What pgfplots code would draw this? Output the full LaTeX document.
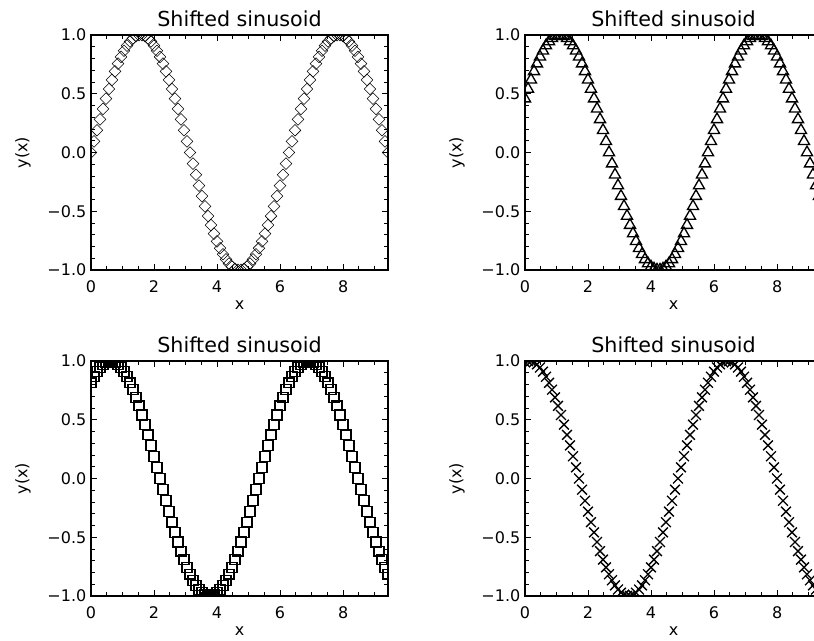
\documentclass[border=0pt]{standalone}
\usepackage{fontspec}
\setmainfont{DejaVu Sans}
\usepackage{pgfplots}
\usepackage{pgfplotstable}
\pgfplotsset{compat=1.18}

% y0..y3: the sinusoid with four phase shifts, sampled at 100 points on [0, 3pi]
\pgfplotstableread{
x      y0      y1      y2      y3
0.000  0.0000  0.4582  0.8146  0.9898
0.095  0.0951  0.5406  0.8660  0.9989
0.190  0.1893  0.6182  0.9096  0.9989
0.286  0.2817  0.6901  0.9450  0.9898
0.381  0.3717  0.7558  0.9718  0.9718
0.476  0.4582  0.8146  0.9898  0.9450
0.571  0.5406  0.8660  0.9989  0.9096
0.666  0.6182  0.9096  0.9989  0.8660
0.762  0.6901  0.9450  0.9898  0.8146
0.857  0.7558  0.9718  0.9718  0.7558
0.952  0.8146  0.9898  0.9450  0.6901
1.047  0.8660  0.9989  0.9096  0.6182
1.142  0.9096  0.9989  0.8660  0.5406
1.238  0.9450  0.9898  0.8146  0.4582
1.333  0.9718  0.9718  0.7558  0.3717
1.428  0.9898  0.9450  0.6901  0.2817
1.523  0.9989  0.9096  0.6182  0.1893
1.618  0.9989  0.8660  0.5406  0.0951
1.714  0.9898  0.8146  0.4582  0.0000
1.809  0.9718  0.7558  0.3717 -0.0951
1.904  0.9450  0.6901  0.2817 -0.1893
1.999  0.9096  0.6182  0.1893 -0.2817
2.094  0.8660  0.5406  0.0951 -0.3717
2.190  0.8146  0.4582  0.0000 -0.4582
2.285  0.7558  0.3717 -0.0951 -0.5406
2.380  0.6901  0.2817 -0.1893 -0.6182
2.475  0.6182  0.1893 -0.2817 -0.6901
2.570  0.5406  0.0951 -0.3717 -0.7558
2.666  0.4582  0.0000 -0.4582 -0.8146
2.761  0.3717 -0.0951 -0.5406 -0.8660
2.856  0.2817 -0.1893 -0.6182 -0.9096
2.951  0.1893 -0.2817 -0.6901 -0.9450
3.046  0.0951 -0.3717 -0.7558 -0.9718
3.142  0.0000 -0.4582 -0.8146 -0.9898
3.237 -0.0951 -0.5406 -0.8660 -0.9989
3.332 -0.1893 -0.6182 -0.9096 -0.9989
3.427 -0.2817 -0.6901 -0.9450 -0.9898
3.522 -0.3717 -0.7558 -0.9718 -0.9718
3.618 -0.4582 -0.8146 -0.9898 -0.9450
3.713 -0.5406 -0.8660 -0.9989 -0.9096
3.808 -0.6182 -0.9096 -0.9989 -0.8660
3.903 -0.6901 -0.9450 -0.9898 -0.8146
3.998 -0.7558 -0.9718 -0.9718 -0.7558
4.094 -0.8146 -0.9898 -0.9450 -0.6901
4.189 -0.8660 -0.9989 -0.9096 -0.6182
4.284 -0.9096 -0.9989 -0.8660 -0.5406
4.379 -0.9450 -0.9898 -0.8146 -0.4582
4.474 -0.9718 -0.9718 -0.7558 -0.3717
4.570 -0.9898 -0.9450 -0.6901 -0.2817
4.665 -0.9989 -0.9096 -0.6182 -0.1893
4.760 -0.9989 -0.8660 -0.5406 -0.0951
4.855 -0.9898 -0.8146 -0.4582  0.0000
4.950 -0.9718 -0.7558 -0.3717  0.0951
5.046 -0.9450 -0.6901 -0.2817  0.1893
5.141 -0.9096 -0.6182 -0.1893  0.2817
5.236 -0.8660 -0.5406 -0.0951  0.3717
5.331 -0.8146 -0.4582  0.0000  0.4582
5.426 -0.7558 -0.3717  0.0951  0.5406
5.522 -0.6901 -0.2817  0.1893  0.6182
5.617 -0.6182 -0.1893  0.2817  0.6901
5.712 -0.5406 -0.0951  0.3717  0.7558
5.807 -0.4582  0.0000  0.4582  0.8146
5.902 -0.3717  0.0951  0.5406  0.8660
5.998 -0.2817  0.1893  0.6182  0.9096
6.093 -0.1893  0.2817  0.6901  0.9450
6.188 -0.0951  0.3717  0.7558  0.9718
6.283  0.0000  0.4582  0.8146  0.9898
6.378  0.0951  0.5406  0.8660  0.9989
6.474  0.1893  0.6182  0.9096  0.9989
6.569  0.2817  0.6901  0.9450  0.9898
6.664  0.3717  0.7558  0.9718  0.9718
6.759  0.4582  0.8146  0.9898  0.9450
6.854  0.5406  0.8660  0.9989  0.9096
6.950  0.6182  0.9096  0.9989  0.8660
7.045  0.6901  0.9450  0.9898  0.8146
7.140  0.7558  0.9718  0.9718  0.7558
7.235  0.8146  0.9898  0.9450  0.6901
7.330  0.8660  0.9989  0.9096  0.6182
7.426  0.9096  0.9989  0.8660  0.5406
7.521  0.9450  0.9898  0.8146  0.4582
7.616  0.9718  0.9718  0.7558  0.3717
7.711  0.9898  0.9450  0.6901  0.2817
7.806  0.9989  0.9096  0.6182  0.1893
7.902  0.9989  0.8660  0.5406  0.0951
7.997  0.9898  0.8146  0.4582  0.0000
8.092  0.9718  0.7558  0.3717 -0.0951
8.187  0.9450  0.6901  0.2817 -0.1893
8.282  0.9096  0.6182  0.1893 -0.2817
8.378  0.8660  0.5406  0.0951 -0.3717
8.473  0.8146  0.4582  0.0000 -0.4582
8.568  0.7558  0.3717 -0.0951 -0.5406
8.663  0.6901  0.2817 -0.1893 -0.6182
8.758  0.6182  0.1893 -0.2817 -0.6901
8.854  0.5406  0.0951 -0.3717 -0.7558
8.949  0.4582  0.0000 -0.4582 -0.8146
9.044  0.3717 -0.0951 -0.5406 -0.8660
9.139  0.2817 -0.1893 -0.6182 -0.9096
9.234  0.1893 -0.2817 -0.6901 -0.9450
9.330  0.0951 -0.3717 -0.7558 -0.9718
9.425  0.0000 -0.4582 -0.8146 -0.9898
}\sinedata

\pgfplotsset{
  sinepanel/.style={
    scale only axis,
    width=222.75pt, height=176.25pt,
    anchor=south west,
    xmin=0, xmax=9.425, ymin=-1, ymax=1,
    xtick={0,2,4,6,8}, xticklabels={0,2,4,6,8},
    minor xtick={0.5,1,1.5,2.5,3,3.5,4.5,5,5.5,6.5,7,7.5,8.5,9},
    ytick={-1,-0.5,0,0.5,1}, yticklabels={−1.0,−0.5,0.0,0.5,1.0},
    minor ytick={-0.9,-0.8,-0.7,-0.6,-0.4,-0.3,-0.2,-0.1,0.1,0.2,0.3,0.4,0.6,0.7,0.8,0.9},
    tick align=inside,
    major tick length=4.5pt, minor tick length=3pt,
    every tick/.style={black, line width=0.7pt},
    axis line style={line width=0.9pt},
    tick label style={font=\fontsize{12}{14}\selectfont},
    xticklabel style={yshift=-4.5pt},
    title={Shifted sinusoid},
    every axis title/.style={at={(axis description cs:0.5,1)}, anchor=base,
      yshift=6.2pt, inner sep=0pt, font=\fontsize{15.5}{18}\selectfont},
    xlabel={x}, ylabel={y(x)},
    xlabel style={at={(axis description cs:0.5,-0.15)}, anchor=center,
      inner sep=0pt, font=\fontsize{12}{14}\selectfont},
    ylabel style={at={(axis description cs:-0.229,0.5)}, anchor=center,
      inner sep=0pt, font=\fontsize{12}{14}\selectfont},
    clip marker paths=true,
  },
  sinemarks/.style={only marks, black, mark options={solid, line width=1pt}},
}

\begin{document}
\begin{tikzpicture}
  % top left: no shift, diamonds
  \begin{axis}[sinepanel, at={(68.25pt,-202.5pt)}]
    \addplot[sinemarks, mark=square, mark size=3.1pt, mark options={rotate=45}]
      table[x=x, y=y0] {\sinedata};
  \end{axis}
  % top right: triangles
  \begin{axis}[sinepanel, at={(393.75pt,-202.5pt)}]
    \addplot[sinemarks, mark=triangle, mark size=4.8pt]
      table[x=x, y=y1] {\sinedata};
  \end{axis}
  % bottom left: squares
  \begin{axis}[sinepanel, at={(68.25pt,-447pt)}]
    \addplot[sinemarks, mark=square, mark size=3.7pt]
      table[x=x, y=y2] {\sinedata};
  \end{axis}
  % bottom right: crosses
  \begin{axis}[sinepanel, at={(393.75pt,-447pt)}]
    \addplot[sinemarks, mark=x, mark size=5.2pt]
      table[x=x, y=y3] {\sinedata};
  \end{axis}
  % page window
  \pgfresetboundingbox
  \useasboundingbox (0pt,0pt) rectangle (610.5pt,-480pt);
\end{tikzpicture}
\end{document}
